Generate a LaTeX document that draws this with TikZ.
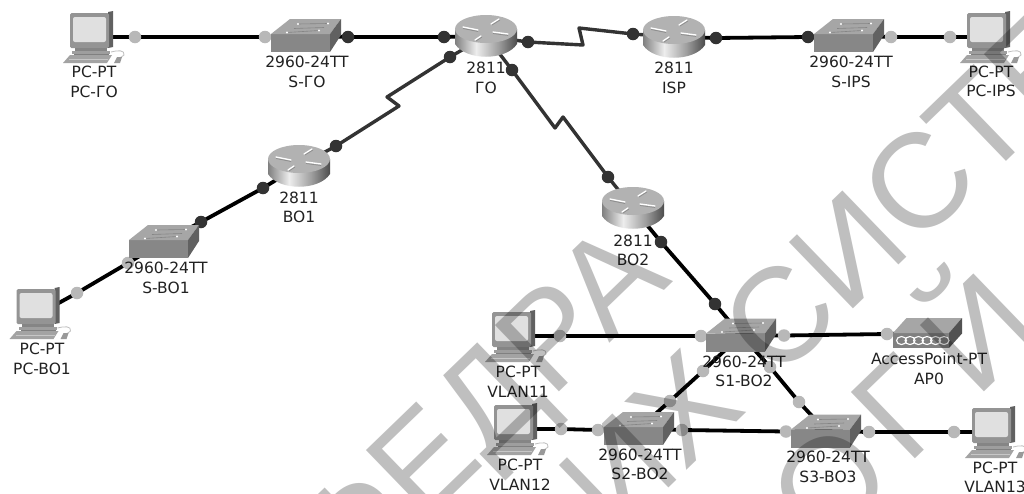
\documentclass[tikz,border=0pt]{standalone}
\usepackage{fontspec}
\setmainfont{DejaVu Sans}
\newfontfamily\wmfont{Liberation Sans}
\usetikzlibrary{backgrounds}
\pgfdeclarehorizontalshading{rtrbody}{100bp}{color(0bp)=(rgb:white,0.5;black,0.5); color(25bp)=(rgb:white,0.5;black,0.5); color(42bp)=(rgb:white,0.93;black,0.07); color(60bp)=(rgb:white,0.62;black,0.38); color(75bp)=(rgb:white,0.3;black,0.7); color(100bp)=(rgb:white,0.3;black,0.7)}
\definecolor{ink}{gray}{0.13}
\definecolor{gport}{gray}{0.72}
\definecolor{dport}{gray}{0.2}
\definecolor{serialc}{gray}{0.2}
\tikzset{
  x=1pt,y=-1pt,
  dev/.style={inner sep=0pt,minimum width=62pt,minimum height=40pt},
  lab/.style={align=center,inner sep=0pt,text=ink,font=\fontsize{15.5}{19.5}\selectfont},
  gdot/.style={circle,inner sep=0pt,minimum size=12.5pt,fill=gport},
  bdot/.style={circle,inner sep=0pt,minimum size=12.5pt,fill=dport},
  eth/.style={line width=3.8pt,black},
  ser/.style={line width=3.4pt,serialc,line join=round},
  wm/.style={inner sep=0pt,text=black,text opacity=0.25,rotate=44,font=\wmfont\fontsize{134}{134}\selectfont},
  pcicon/.pic={
    \fill[black!62] (14,-25) -- (19,-26) -- (19,10) -- (14,11) -- cycle;
    \fill[black!42,rounded corners=1.5pt] (-24,-24) rectangle (15,11);
    \fill[black!12,rounded corners=2pt] (-21,-20) rectangle (12,5);
    \fill[black!48] (-19,11) rectangle (13,14);
    \fill[black!38] (-22,14) rectangle (16,17);
    \fill[black!50] (-20,17) rectangle (15,18);
    \fill[black!36] (-31,26) -- (-24,18) -- (18,18) -- (13,26) -- cycle;
    \draw[black!22,line width=.7pt] (-25,22) -- (14,22);
    \draw[black!25,line width=.8pt] (17,15) .. controls (24,13) and (31,13) .. (30,18) .. controls (29,20) and (26,20) .. (25,21);
    \fill[black!40] (20,26) -- (23,20) -- (28,20) -- (26,26) -- cycle;
  },
  swicon/.pic={
    \fill[black!47] (-35,-1.5) rectangle (24,16.5);
    \fill[black!35] (-35,-1.5) -- (-16,-16.5) -- (35,-16.5) -- (24,-1.5) -- cycle;
    \fill[black!62] (24,-1.5) -- (35,-16.5) -- (35,-0.5) -- (24,16.5) -- cycle;
    \draw[black!48,line width=.6pt] (-8,-11.5) -- (22,-12) (-19,-3) -- (13,-5) (-12,-7) -- (18,-8);
    \fill[white] (-8,-11.5) circle[radius=1.2pt] (22,-12) circle[radius=1.2pt] (-19,-3) circle[radius=1.2pt] (13,-5) circle[radius=1.2pt];
  },
  rticon/.pic={
    \shade[shading=rtrbody] (-31,-7) -- (-31,8) .. controls (-20,25) and (20,25) .. (31,8) -- (31,-7) -- cycle;
    \fill[black!30] (0,-7) ellipse[x radius=31pt,y radius=14pt];
    \draw[white,line width=1.3pt,line cap=round] (-23,-9) -- (-8,-6) (7,-4) -- (22,-2) (-11,4) -- (-5,0) (5,-12) -- (13,-17);
    \draw[black!45,line width=.7pt] (-23,-7.5) -- (-8,-4.5) (7,-2.5) -- (22,-.5) (-10,5) -- (-4,1) (6,-11) -- (14,-16);
  },
  apicon/.pic={
    \fill[black!50] (-34.5,.5) rectangle (21.5,15.5);
    \fill[black!35] (-34.5,.5) -- (-21,-14.5) -- (34.5,-14.5) -- (21.5,.5) -- cycle;
    \fill[black!68] (21.5,.5) -- (34.5,-14.5) -- (34.5,1) -- (21.5,15.5) -- cycle;
    \foreach \i in {-26,-17.5,-9,-.5,8,16.5}{\draw[white,line width=1.1pt] (\i,8) ellipse[x radius=5pt,y radius=4pt];}
  }
}
\begin{document}
\begin{tikzpicture}
\clip (0,0) rectangle (1024,493);
% devices
\node[dev] (pcgo) at (94,37) {};
\node[dev] (sgo) at (306,35.5) {};
\node[dev] (go) at (486,36) {};
\node[dev] (isp) at (674,37) {};
\node[dev] (sisp) at (849,35.5) {};
\node[dev] (pcisp) at (991,37) {};
\node[dev] (boa) at (299,166) {};
\node[dev] (sboa) at (164,241.5) {};
\node[dev] (pcboa) at (40.5,313) {};
\node[dev] (bob) at (633,208) {};
\node[dev] (sa) at (741,335) {};
\node[dev] (sb) at (639,428.5) {};
\node[dev] (sc) at (826,431) {};
\node[dev] (ap) at (927.5,332.5) {};
\node[dev] (pca) at (516,336) {};
\node[dev] (pcb) at (518,429) {};
\node[dev] (pcc) at (996,432) {};
% zigzag bends
\coordinate (z1) at (387,97); \coordinate (z2) at (399,106);
\coordinate (z3) at (583,45); \coordinate (z4) at (579,28);
\coordinate (z5) at (555,128); \coordinate (z6) at (563,117);
% port dots
\node[gdot] (p1) at (135,37) {};
\node[gdot] (p2) at (265,37) {};
\node[bdot] (p3) at (348,37) {};
\node[bdot] (p4) at (444,37) {};
\node[bdot] (p5) at (450,57) {};
\node[bdot] (p6) at (336,146) {};
\node[bdot] (p7) at (263,188) {};
\node[bdot] (p8) at (201,222) {};
\node[gdot] (p9) at (128,263) {};
\node[gdot] (p10) at (77,293) {};
\node[bdot] (p11) at (528,42) {};
\node[bdot] (p12) at (633,34) {};
\node[bdot] (p13) at (716,38) {};
\node[bdot] (p14) at (808,37) {};
\node[gdot] (p15) at (891,37) {};
\node[gdot] (p16) at (950,37) {};
\node[bdot] (p17) at (512,70) {};
\node[bdot] (p18) at (608,177) {};
\node[bdot] (p19) at (661,242) {};
\node[bdot] (p20) at (715,304) {};
\node[gdot] (p21) at (560,336) {};
\node[gdot] (p22) at (701,336) {};
\node[gdot] (p23) at (784,335.5) {};
\node[gdot] (p24) at (887,334) {};
\node[gdot] (p25) at (703,371) {};
\node[gdot] (p26) at (670,401) {};
\node[gdot] (p27) at (770,367) {};
\node[gdot] (p28) at (799,402) {};
\node[gdot] (p29) at (561,429) {};
\node[gdot] (p30) at (598,430) {};
\node[gdot] (p31) at (682,430) {};
\node[gdot] (p32) at (786,431.5) {};
\node[gdot] (p33) at (869,432) {};
\node[gdot] (p34) at (954,432) {};
% connectors
\begin{scope}[on background layer]
\fill[white] (0,0) rectangle (1024,493);
\draw[eth] (pcgo.center) -- (p1.center) -- (p2.center) -- (sgo.center);
\draw[eth] (sgo.center) -- (p3.center) -- (p4.center) -- (go.center);
\draw[ser] (go.center) -- (p5.center) -- (z1) -- (z2) -- (p6.center) -- (boa.center);
\draw[eth] (boa.center) -- (p7.center) -- (p8.center) -- (sboa.center);
\draw[eth] (sboa.center) -- (p9.center) -- (p10.center) -- (pcboa.center);
\draw[ser] (go.center) -- (p11.center) -- (z3) -- (z4) -- (p12.center) -- (isp.center);
\draw[eth] (isp.center) -- (p13.center) -- (p14.center) -- (sisp.center);
\draw[eth] (sisp.center) -- (p15.center) -- (p16.center) -- (pcisp.center);
\draw[ser] (go.center) -- (p17.center) -- (z5) -- (z6) -- (p18.center) -- (bob.center);
\draw[eth] (bob.center) -- (p19.center) -- (p20.center) -- (sa.center);
\draw[eth] (pca.center) -- (p21.center) -- (p22.center) -- (sa.center);
\draw[eth] (sa.center) -- (p23.center) -- (p24.center) -- (ap.center);
\draw[eth] (sa.center) -- (p25.center) -- (p26.center) -- (sb.center);
\draw[eth] (sa.center) -- (p27.center) -- (p28.center) -- (sc.center);
\draw[eth] (pcb.center) -- (p29.center) -- (p30.center) -- (sb.center);
\draw[eth] (sb.center) -- (p31.center) -- (p32.center) -- (sc.center);
\draw[eth] (sc.center) -- (p33.center) -- (p34.center) -- (pcc.center);
\end{scope}
% icons
\pic at (pcgo.center) {pcicon};
\pic at (pcisp.center) {pcicon};
\pic at (pcboa.center) {pcicon};
\pic at (pca.center) {pcicon};
\pic at (pcb.center) {pcicon};
\pic at (pcc.center) {pcicon};
\pic at (sgo.center) {swicon};
\pic at (sisp.center) {swicon};
\pic at (sboa.center) {swicon};
\pic at (sa.center) {swicon};
\pic at (sb.center) {swicon};
\pic at (sc.center) {swicon};
\pic at (go.center) {rticon};
\pic at (isp.center) {rticon};
\pic at (boa.center) {rticon};
\pic at (bob.center) {rticon};
\pic at (ap.center) {apicon};
% labels
\node[lab] (lpcgo) at (94,82) {PC-PT\\PC-ГО};
\node[lab] (lsgo) at (307,72) {2960-24TT\\S-ГО};
\node[lab] (lgo) at (486,78) {2811\\ГО};
\node[lab] (lisp) at (674,78) {2811\\ISP};
\node[lab] (lsisp) at (851,72) {2960-24TT\\S-IPS};
\node[lab] (lpcisp) at (991,81.5) {PC-PT\\PC-IPS};
\node[lab] (lboa) at (299,207.5) {2811\\BO1};
\node[lab] (lsboa) at (166,278) {2960-24TT\\S-BO1};
\node[lab] (lpcboa) at (42,359) {PC-PT\\PC-BO1};
\node[lab] (lbob) at (633,250.5) {2811\\BO2};
\node[lab] (lpca) at (518,381.5) {PC-PT\\VLAN11};
\node[lab] (lsa) at (744,371.5) {2960-24TT\\S1-BO2};
\node[lab] (lap) at (929,368.5) {AccessPoint-PT\\AP0};
\node[lab] (lpcb) at (520,474.5) {PC-PT\\VLAN12};
\node[lab] (lsb) at (640,464.5) {2960-24TT\\S2-BO2};
\node[lab] (lsc) at (828,467) {2960-24TT\\S3-BO3};
\node[lab] (lpcc) at (995,477.5) {PC-PT\\VLAN13};
% watermark
\node[wm,anchor=base east] (wa) at (674,281) {КАФЕДРА};
\node[wm,anchor=base east] (wb) at (749,410) {ИХ};
\node[wm,anchor=base west] (wc) at (776,384) {СИСТЕМ};
\node[wm,anchor=base west] (we) at (824,555) {О};
\node[wm,anchor=base west] (wf) at (907,467) {Г};
\node[wm,anchor=base west] (wg) at (976,400) {Й};
\end{tikzpicture}
\end{document}
